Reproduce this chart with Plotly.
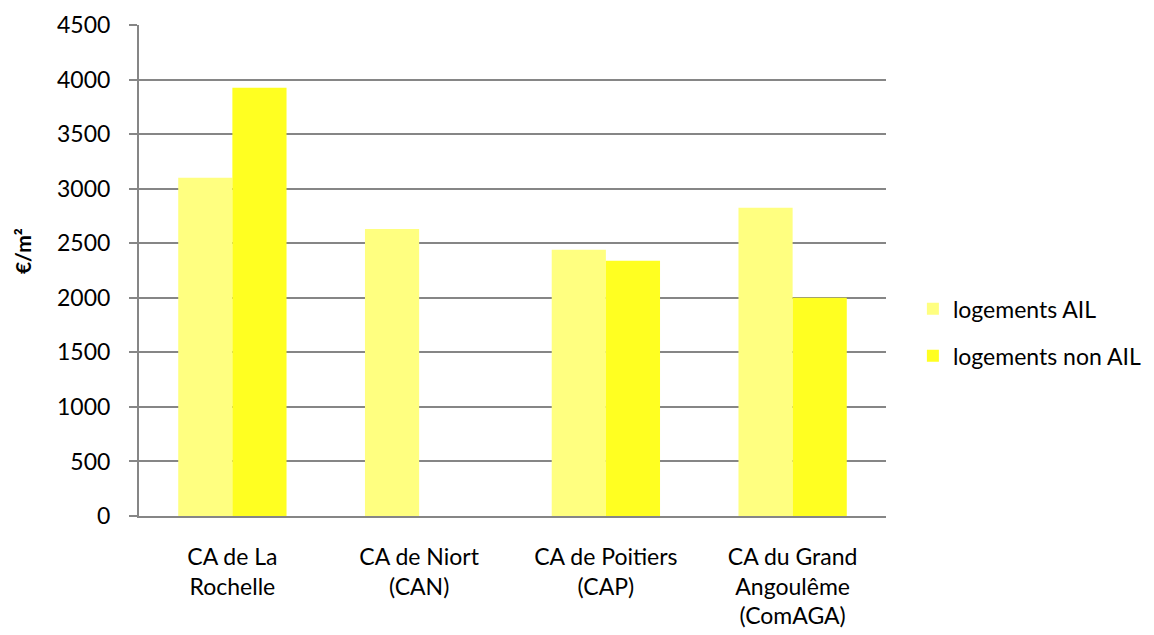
import plotly.graph_objects as go

# Prix moyens au m² par agglomération
categories = [
    "CA de La<br>Rochelle",
    "CA de Niort<br>(CAN)",
    "CA de Poitiers<br>(CAP)",
    "CA du Grand<br>Angoulême<br>(ComAGA)",
]
logements_ail = [3100, 2630, 2440, 2825]
logements_non_ail = [3925, None, 2340, 2000]
y_ticks = [0, 500, 1000, 1500, 2000, 2500, 3000, 3500, 4000, 4500]
y_title = "<b>€/m²</b>"

FONT = "Lato"
SIZE = 23
AXIS_GREY = "#868686"

fig = go.Figure()
fig.add_trace(go.Bar(
    name="logements AIL", x=categories, y=logements_ail,
    marker=dict(color="#FFFF80", line=dict(width=0)),
    legendgroup="ail",
))
fig.add_trace(go.Bar(
    name="logements non AIL", x=categories, y=logements_non_ail,
    marker=dict(color="#FFFF21", line=dict(width=0)),
    legendgroup="nonail",
))

fig.update_layout(
    width=1154, height=635,
    paper_bgcolor="white", plot_bgcolor="white",
    barmode="group", bargap=0.42, bargroupgap=0,
    margin=dict(l=139, r=268, t=25, b=119, autoexpand=False),
    font=dict(family=FONT, size=SIZE, color="#000000"),
    legend=dict(
        x=1.036, y=0.374, xanchor="left", yanchor="middle",
        font=dict(size=SIZE), itemwidth=30,
        traceorder="grouped", tracegroupgap=14,
        bgcolor="rgba(0,0,0,0)",
    ),
    showlegend=True,
)
fig.update_xaxes(
    showline=True, linecolor=AXIS_GREY, linewidth=2,
    ticks="", showgrid=False, tickfont=dict(size=SIZE),
    ticklabelstandoff=19,
)
fig.update_yaxes(
    range=[0, 4500], tickvals=y_ticks,
    showline=True, linecolor=AXIS_GREY, linewidth=2,
    ticks="outside", ticklen=8, tickcolor=AXIS_GREY, tickwidth=1.5,
    showgrid=True, gridcolor=AXIS_GREY, gridwidth=1.5,
    zeroline=False, tickfont=dict(size=SIZE), ticklabelstandoff=14,
)

# vertical axis title placed beside the tick labels
fig.add_annotation(
    text=y_title, textangle=-90, showarrow=False,
    xref="paper", yref="paper",
    x=-0.155, y=0.54, xanchor="center", yanchor="middle",
    font=dict(size=21, family=FONT),
)

fig.write_html("out.html")
